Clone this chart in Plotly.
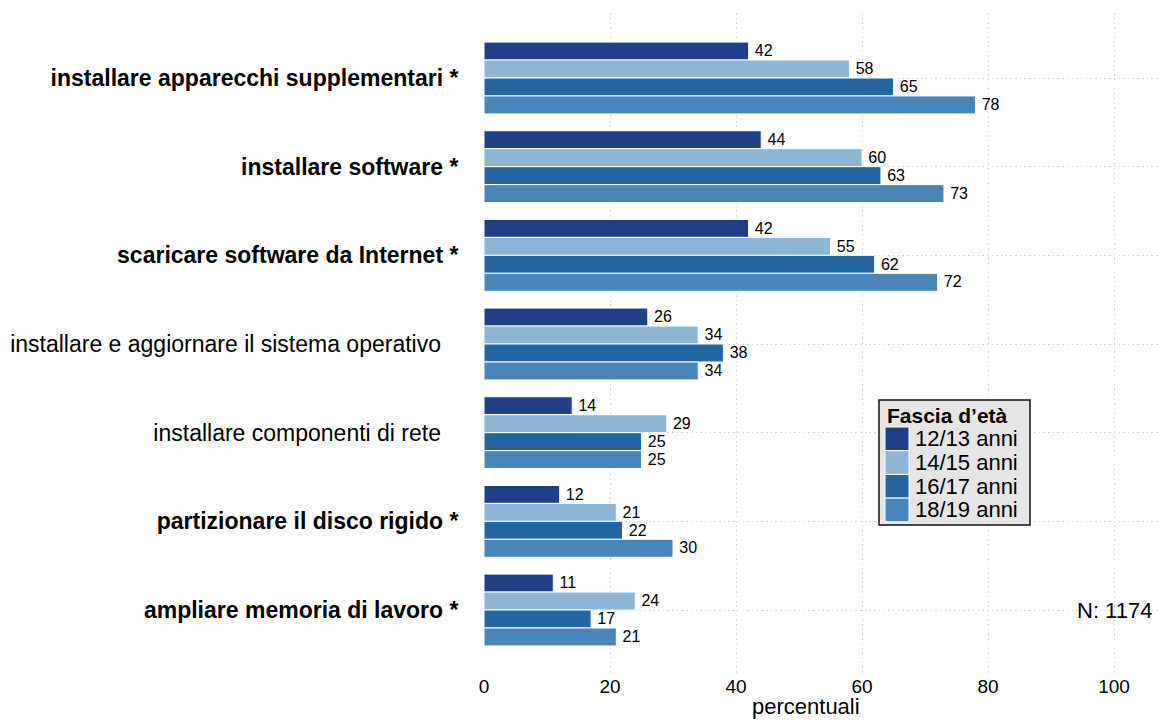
import plotly.graph_objects as go

categories = [
    "installare apparecchi supplementari *",
    "installare software *",
    "scaricare software da Internet *",
    "installare e aggiornare il sistema operativo",
    "installare componenti di rete",
    "partizionare il disco rigido *",
    "ampliare memoria di lavoro *",
]
bold_flags = [True, True, True, False, False, True, True]

series_names = ["12/13 anni", "14/15 anni", "16/17 anni", "18/19 anni"]
v_12_13 = [42, 44, 42, 26, 14, 12, 11]
v_14_15 = [58, 60, 55, 34, 29, 21, 24]
v_16_17 = [65, 63, 62, 38, 25, 22, 17]
v_18_19 = [78, 73, 72, 34, 25, 30, 21]
series_values = [v_12_13, v_14_15, v_16_17, v_18_19]
colors = ["#1F3F87", "#8CB5D6", "#2464A1", "#4A85BA"]

x_ticks = [0, 20, 40, 60, 80, 100]
legend_title = "Fascia d’età"
n_label = "N: 1174"
x_title = "percentuali"

FONT = "Liberation Sans, Arial, Helvetica, sans-serif"
GRID = "#D4D4D4"

# figure geometry (page body has an 8px margin)
W, H = 1159, 712
ML, MR, MT, MB = 476, 0, 5, 44
PW, PH = W - ML - MR, H - MT - MB


def px(xp):
    return (xp - ML) / PW


def py(yp):
    return (H - MB - yp) / PH


fig = go.Figure()
for name, vals, col in zip(series_names, series_values, colors):
    fig.add_trace(go.Bar(
        y=categories, x=vals, name=name, orientation="h",
        marker=dict(color=col, line=dict(color="white", width=1)),
        text=["\u2009" + str(v) for v in vals], textposition="outside",
        textfont=dict(size=17, color="black", family=FONT),
        cliponaxis=False, showlegend=False,
    ))

ticktext = [f"<b>{c}</b>" if b else c + "\u00a0\u00a0\u2009"
            for c, b in zip(categories, bold_flags)]

shapes = []
annotations = []

# custom legend (box, swatches, labels)
lx0, lx1, ly0, ly1 = 871, 1022, 392, 517
shapes.append(dict(type="rect", xref="paper", yref="paper",
                   x0=px(lx0), x1=px(lx1), y0=py(ly1), y1=py(ly0),
                   fillcolor="#E5E5E5", line=dict(color="#111111", width=1.5),
                   layer="above"))
annotations.append(dict(text=f"<b>{legend_title}</b>", xref="paper", yref="paper",
                        x=px(878), y=py(407), xanchor="left", yanchor="middle",
                        showarrow=False, font=dict(size=21), borderpad=0))
row_h = 23.7
row_top = 419
for i, (name, col) in enumerate(zip(series_names, colors)):
    t = row_top + i * row_h
    shapes.append(dict(type="rect", xref="paper", yref="paper",
                       x0=px(877), x1=px(901), y0=py(t + row_h), y1=py(t),
                       fillcolor=col, line=dict(color="white", width=1),
                       layer="above"))
    annotations.append(dict(text=name, xref="paper", yref="paper",
                            x=px(906), y=py(t + row_h / 2), xanchor="left",
                            yanchor="middle", showarrow=False, borderpad=0,
                            font=dict(size=22)))

annotations.append(dict(text=n_label, x=100, y=categories[6], xref="x", yref="y",
                        showarrow=False, font=dict(size=22),
                        xanchor="center", yanchor="middle"))
annotations.append(dict(text=x_title, xref="paper", yref="paper",
                        x=px(798), y=py(698), xanchor="center", yanchor="middle",
                        showarrow=False, font=dict(size=22), borderpad=0))

fig.update_layout(
    width=W, height=H,
    margin=dict(l=ML, r=MR, t=MT, b=MB, pad=0),
    barmode="group", bargap=0.19, bargroupgap=0,
    plot_bgcolor="white", paper_bgcolor="white",
    font=dict(family=FONT, color="black", size=18),
    showlegend=False,
    xaxis=dict(
        range=[0, 108.4], tickvals=x_ticks, showgrid=True,
        gridcolor=GRID, griddash="1.5px,3.2px", gridwidth=1.2,
        zeroline=False, showline=False,
        ticks="", ticklabelstandoff=-3,
        tickfont=dict(size=19),
    ),
    yaxis=dict(
        type="category", categoryorder="array", categoryarray=categories,
        range=[6.744, -0.733], tickvals=categories, ticktext=ticktext,
        showgrid=True, gridcolor=GRID, griddash="1.5px,3.2px", gridwidth=1.2,
        zeroline=False, showline=False,
        ticks="outside", ticklen=20, tickcolor="rgba(0,0,0,0)",
        tickfont=dict(size=23),
    ),
    shapes=shapes,
    annotations=annotations,
)

fig.write_html("out.html")
